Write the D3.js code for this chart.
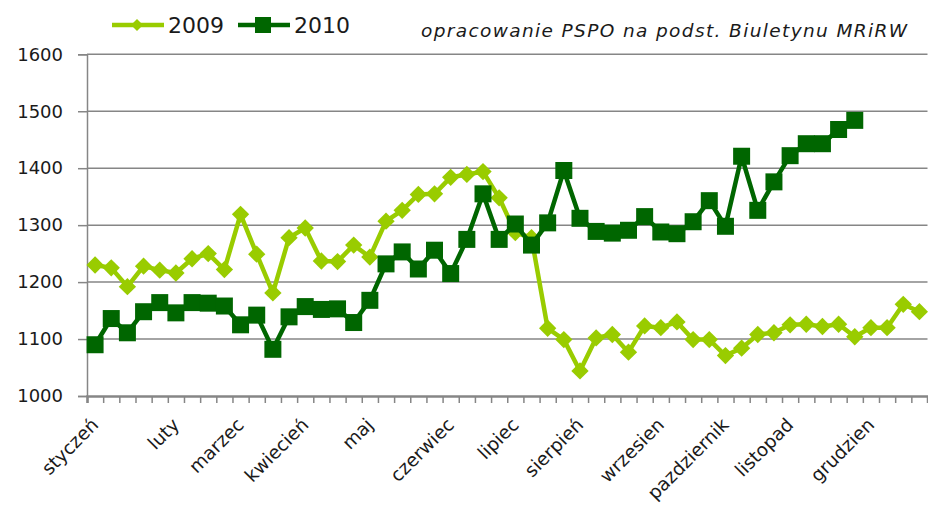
<!DOCTYPE html>
<html>
<head>
<meta charset="utf-8">
<script src="https://cdn.jsdelivr.net/npm/d3@7"></script>
<style>
body { margin: 0; background: #fff; }
svg { display: block; }
</style>
</head>
<body>
<svg id="chart" width="928" height="505"></svg>
<script>
// weekly categories (52 weeks), only first week of each month gets a label
const weeks = d3.range(52);
const monthNames = ['styczeń', 'luty', 'marzec', 'kwiecień', 'maj', 'czerwiec', 'lipiec', 'sierpień', 'wrzesien', 'pazdziernik', 'listopad', 'grudzien'];
const monthWeek = [0, 5, 9, 13, 17, 22, 26, 30, 35, 39, 43, 48];
const yTicks = [1000, 1100, 1200, 1300, 1400, 1500, 1600];
const seriesNames = ['2009', '2010'];

const values2009 = [1230, 1225, 1192, 1228, 1221, 1216, 1241, 1250, 1222, 1319, 1249, 1181, 1278, 1295,
    1237, 1236, 1265, 1244, 1307, 1326, 1354, 1355, 1384, 1389, 1394, 1348, 1287, 1278,
    1119, 1099, 1044, 1102, 1108, 1077, 1123, 1120, 1130, 1099, 1099, 1071, 1084, 1108, 1111, 1125,
    1126, 1122, 1126, 1104, 1120, 1120, 1161, 1148];
const values2010 = [1090, 1136, 1111, 1148, 1164, 1146, 1164, 1163, 1158, 1125, 1142, 1082, 1139, 1157,
    1152, 1153, 1129, 1168, 1232, 1253, 1223, 1256, 1215, 1275, 1355, 1275, 1302, 1265, 1304,
    1396, 1312, 1289, 1286, 1291, 1315, 1288, 1285, 1306, 1343, 1298, 1421, 1326, 1376, 1422,
    1443, 1443, 1468, 1484];

const sourceText = 'opracowanie PSPO na podst. Biuletynu MRiRW';

const color = d3.scaleOrdinal().domain(seriesNames).range(['#99cc00', '#006600']);
const font = 'DejaVu Sans, sans-serif';
const gridColor = '#868686';

const svg = d3.select('#chart');
const width = +svg.attr('width');
const margin = { top: 54.3, right: 0.5, bottom: 109, left: 87 };
const innerBottom = 396;

const x = d3.scaleBand().domain(weeks).range([margin.left, width - margin.right]);
const xEdge = d3.scaleLinear().domain([0, weeks.length]).range([margin.left, width - margin.right]);
const y = d3.scaleLinear().domain([1000, 1600]).range([innerBottom, margin.top]);
const cx = i => x(i) + x.bandwidth() / 2;

// gridlines
svg.append('g').selectAll('line').data(yTicks.slice(1)).join('line')
    .attr('x1', margin.left).attr('x2', width - margin.right)
    .attr('y1', d => y(d)).attr('y2', d => y(d))
    .attr('stroke', gridColor).attr('stroke-width', 1.5);

// y axis
const yAxis = svg.append('g')
    .attr('transform', `translate(${margin.left},0)`)
    .call(d3.axisLeft(y).tickValues(yTicks).tickFormat(d3.format('d')).tickSize(9).tickPadding(15));
yAxis.select('.domain').attr('stroke', gridColor).attr('stroke-width', 1.5);
yAxis.selectAll('.tick line').attr('stroke', gridColor).attr('stroke-width', 1.5);
yAxis.selectAll('.tick text').attr('font-family', font).attr('font-size', 18).attr('fill', '#1a1a1a');

// x axis: ticks between categories
const xAxis = svg.append('g')
    .attr('transform', `translate(0,${innerBottom})`)
    .call(d3.axisBottom(xEdge).tickValues(d3.range(weeks.length + 1)).tickSize(7).tickFormat(''));
xAxis.select('.domain').attr('stroke', gridColor).attr('stroke-width', 2.5);
xAxis.selectAll('.tick line').attr('stroke', gridColor).attr('stroke-width', 1.5);

// month labels
svg.append('g').selectAll('text').data(monthNames).join('text')
    .attr('transform', (d, i) => `translate(${cx(monthWeek[i]) + 4.5},426) rotate(-45)`)
    .attr('text-anchor', 'end')
    .attr('font-family', font).attr('font-size', 18.5).attr('fill', '#1a1a1a')
    .text(d => d);

// series
const series = [
    { name: '2009', values: values2009, shape: 'diamond' },
    { name: '2010', values: values2010, shape: 'square' }
];
const line = d3.line()
    .x((d, i) => cx(i))
    .y(d => y(d));
const diamond = d3.symbol(d3.symbolSquare, 150);
const square = d3.symbol(d3.symbolSquare, 289);

series.forEach(s => {
    const g = svg.append('g');
    g.append('path')
        .attr('d', line(s.values))
        .attr('fill', 'none')
        .attr('stroke', color(s.name))
        .attr('stroke-width', 4.5)
        .attr('stroke-linejoin', 'round');
    g.selectAll('path.marker').data(s.values).join('path')
        .attr('class', 'marker')
        .attr('d', s.shape === 'diamond' ? diamond : square)
        .attr('transform', (d, i) => `translate(${cx(i)},${y(d)})` + (s.shape === 'diamond' ? ' rotate(45)' : ''))
        .attr('fill', color(s.name));
});

// legend
const legend = svg.selectAll('.legend').data(series).join('g')
    .attr('class', 'legend')
    .attr('transform', (d, i) => `translate(${i === 0 ? 112 : 238},25)`);
legend.append('line')
    .attr('x1', 0).attr('x2', 52)
    .attr('stroke', d => color(d.name)).attr('stroke-width', 4.5);
legend.append('path')
    .attr('d', d => d.shape === 'diamond' ? d3.symbol(d3.symbolSquare, 72)() : d3.symbol(d3.symbolSquare, 256)())
    .attr('transform', d => 'translate(25,0)' + (d.shape === 'diamond' ? ' rotate(45)' : ''))
    .attr('fill', d => color(d.name));
legend.append('text')
    .attr('x', 56).attr('y', 8)
    .attr('font-family', font).attr('font-size', 22).attr('fill', '#1a1a1a')
    .text(d => d.name);

// source note
svg.append('text')
    .attr('x', 907).attr('y', 37)
    .attr('text-anchor', 'end')
    .attr('font-family', font).attr('font-size', 18.5).attr('font-style', 'italic')
    .attr('textLength', 486).attr('lengthAdjust', 'spacing')
    .attr('fill', '#1a1a1a')
    .text(sourceText);
</script>
</body>
</html>
